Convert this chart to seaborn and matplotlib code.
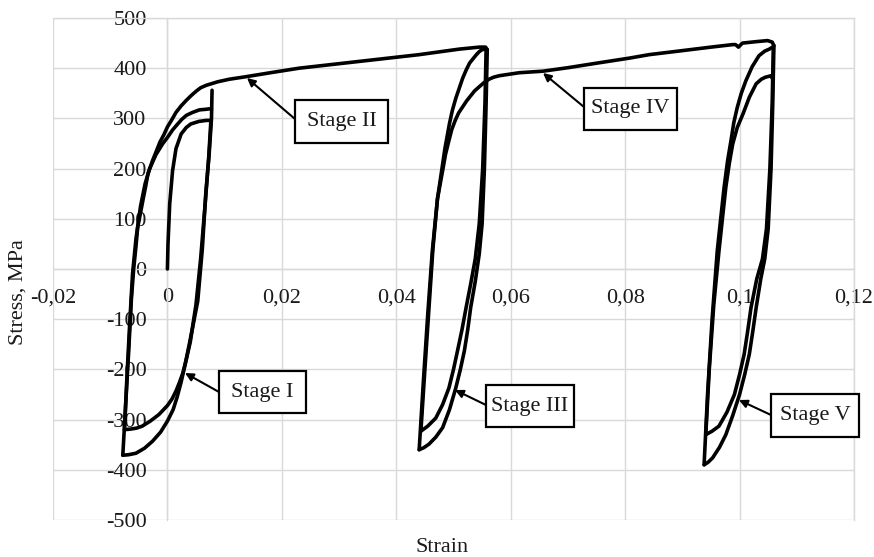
import matplotlib
matplotlib.use("Agg")
import matplotlib.pyplot as plt
import seaborn as sns
import pandas as pd
from matplotlib.patches import Rectangle

# ---------------- data ----------------
# Stage I: initial loading and first cycles
strain_init = [0.0, 0.0001, 0.0004, 0.0009, 0.0015, 0.0024, 0.0033, 0.0041, 0.0055, 0.0068, 0.0076]
stress_init = [0, 50, 130, 196, 240, 269, 282, 289, 294, 296, 296]

strain_unl1 = [0.0076, 0.0072, 0.0066, 0.0058, 0.0050, 0.0040, 0.0033, 0.0027, 0.0021, 0.0015, 0.0008,
               0.0, -0.0015, -0.0030, -0.0044, -0.0054, -0.0065, -0.0075]
stress_unl1 = [296, 220, 130, 20, -70, -145, -180, -207, -226, -243, -259,
               -272, -290, -303, -313, -317, -319, -320]

strain_rel1 = [-0.0075, -0.0071, -0.0066, -0.0061, -0.0055, -0.0047, -0.0039, -0.0031, -0.0020, -0.0008,
               0.0, 0.0009, 0.0018, 0.0025, 0.0033, 0.0044, 0.0056, 0.0066, 0.0073, 0.0077]
stress_rel1 = [-320, -220, -110, -10, 60, 125, 170, 200, 228, 250,
               262, 277, 289, 298, 306, 312, 317, 318, 319, 319]

strain_unl2 = [0.0078, 0.0077, 0.0073, 0.0067, 0.0061, 0.0053, 0.0046, 0.0038, 0.0031, 0.0024, 0.0017,
               0.0010, 0.0, -0.0012, -0.0026, -0.0040, -0.0055, -0.0068, -0.0078]
stress_unl2 = [356, 300, 230, 150, 40, -64, -105, -151, -190, -225, -255,
               -280, -303, -325, -343, -357, -367, -370, -371]

# Stage II: reloading and monotonic tension
strain_rel2 = [-0.0078, -0.0073, -0.0068, -0.0063, -0.0059, -0.0055, -0.0052, -0.0047, -0.0043, -0.0038,
               -0.0034, -0.0026, -0.0020, -0.0013, -0.0006, 0.0, 0.0008, 0.0015, 0.0024, 0.0033,
               0.0042, 0.0050, 0.0058, 0.0068, 0.0088, 0.0108, 0.0137, 0.018, 0.023, 0.030, 0.037,
               0.044, 0.051, 0.0545, 0.0556, 0.0559]
stress_rel2 = [-371, -270, -170, -60, 0, 45, 83, 112, 136, 165,
               190, 216, 233, 253, 268, 283, 298, 312, 325, 336,
               346, 354, 361, 366, 373, 378, 383, 391, 400, 409, 418,
               427, 438, 442, 442, 437]

# Stage III: cycles around 0.05
strain_unl3 = [0.0559, 0.0557, 0.0554, 0.0550, 0.0545, 0.0538, 0.0530, 0.0525, 0.0519, 0.0512, 0.0504,
               0.0493, 0.0481, 0.0469, 0.0457, 0.0448, 0.0440]
stress_unl3 = [437, 330, 200, 90, 30, -25, -77, -120, -163, -200, -237,
               -280, -316, -335, -349, -356, -360]

strain_rel3 = [0.0440, 0.0447, 0.0455, 0.0463, 0.0472, 0.0481, 0.0485, 0.0489, 0.0493, 0.0498, 0.0504,
               0.0510, 0.0516, 0.0522, 0.0528, 0.0535, 0.0540, 0.0545, 0.0550, 0.0557]
stress_rel3 = [-360, -230, -90, 36, 140, 209, 240, 265, 290, 316, 340,
               360, 380, 396, 410, 420, 427, 433, 437, 438]

strain_unl4 = [0.0557, 0.0555, 0.0551, 0.0545, 0.0538, 0.0530, 0.0522, 0.0515, 0.0507, 0.0500, 0.0492,
               0.0481, 0.0469, 0.0455, 0.0443]
stress_unl4 = [438, 330, 200, 90, 20, -30, -77, -120, -163, -200, -237,
               -270, -297, -313, -323]

# Stage IV: reloading and tension to ~0.106
strain_rel4 = [0.0443, 0.0450, 0.0457, 0.0464, 0.0472, 0.0481, 0.0486, 0.0492, 0.0497, 0.0503, 0.0509,
               0.0516, 0.0523, 0.0530, 0.0537, 0.0545, 0.0553, 0.0562, 0.0570, 0.0580, 0.0615,
               0.0656, 0.070, 0.075, 0.0807, 0.0842, 0.090, 0.0950, 0.0988, 0.0993, 0.0998, 0.1005,
               0.1030, 0.1049, 0.1057, 0.1060]
stress_rel4 = [-323, -200, -80, 40, 140, 196, 228, 256, 278, 296, 311,
               323, 335, 345, 355, 363, 371, 378, 382, 385, 391,
               394, 401, 410, 420, 427, 435, 442, 447, 447, 442, 450,
               453, 455, 452, 445]

# Stage V: cycles around 0.1
strain_unl5 = [0.1060, 0.1058, 0.1055, 0.1050, 0.1044, 0.1037, 0.1029, 0.1023, 0.1017, 0.1009, 0.1000,
               0.0988, 0.0976, 0.0965, 0.0953, 0.0945, 0.0938]
stress_unl5 = [445, 330, 200, 80, 20, -20, -77, -125, -170, -210, -250,
               -292, -330, -355, -376, -385, -390]

strain_rel5 = [0.0938, 0.0944, 0.0952, 0.0961, 0.0967, 0.0973, 0.0979, 0.0985, 0.0990, 0.0996, 0.1003,
               0.1011, 0.1022, 0.1034, 0.1044, 0.1052, 0.1059]
stress_rel5 = [-390, -250, -100, 36, 100, 163, 215, 256, 292, 322, 350,
               375, 403, 425, 434, 438, 443]

strain_unl6 = [0.1059, 0.1057, 0.1053, 0.1047, 0.1040, 0.1030, 0.1020, 0.1014, 0.1008, 0.1000, 0.0991,
               0.0978, 0.0964, 0.0952, 0.0941]
stress_unl6 = [443, 330, 200, 80, 20, -20, -77, -125, -170, -210, -250,
               -285, -313, -323, -330]

strain_rel6 = [0.0941, 0.0947, 0.0955, 0.0964, 0.0970, 0.0976, 0.0982, 0.0988, 0.0996, 0.1006, 0.1017,
               0.1029, 0.1038, 0.1045, 0.1055, 0.1057]
stress_rel6 = [-330, -200, -70, 36, 100, 163, 210, 249, 282, 309, 342,
               369, 378, 382, 385, 380]

x_ticks = [-0.02, 0.0, 0.02, 0.04, 0.06, 0.08, 0.10, 0.12]
x_tick_labels = ["-0,02", "0", "0,02", "0,04", "0,06", "0,08", "0,1", "0,12"]
y_ticks = [-500, -400, -300, -200, -100, 0, 100, 200, 300, 400, 500]
y_tick_labels = ["-500", "-400", "-300", "-200", "-100", "0", "100", "200", "300", "400", "500"]

stage_labels = ["Stage I", "Stage II", "Stage III", "Stage IV", "Stage V"]

# ---------------- build table ----------------
segments = [
    (strain_init, stress_init), (strain_unl1, stress_unl1), (strain_rel1, stress_rel1),
    (strain_unl2, stress_unl2), (strain_rel2, stress_rel2), (strain_unl3, stress_unl3),
    (strain_rel3, stress_rel3), (strain_unl4, stress_unl4), (strain_rel4, stress_rel4),
    (strain_unl5, stress_unl5), (strain_rel5, stress_rel5), (strain_unl6, stress_unl6),
    (strain_rel6, stress_rel6),
]
rows = []
for k, (xs, ys) in enumerate(segments):
    for i, (xv, yv) in enumerate(zip(xs, ys)):
        rows.append({"seg": k, "order": i, "strain": xv, "stress": yv})
df = pd.DataFrame(rows)

# ---------------- plotting ----------------
sns.set_style("white")
plt.rcParams["font.family"] = ["Liberation Serif", "DejaVu Serif"]

W, H = 874, 557
fig = plt.figure(figsize=(W / 100, H / 100), dpi=100)
ax = fig.add_axes([53 / W, 37 / H, 801 / W, 502 / H])

sns.lineplot(data=df, x="strain", y="stress", units="seg", estimator=None, sort=False,
             color="black", linewidth=2.6, legend=False, ax=ax, zorder=3,
             solid_joinstyle="round", solid_capstyle="round")

ax.set_xlim(-0.02, 0.12)
ax.set_ylim(-500, 500)
ax.set_xticks(x_ticks)
ax.set_xticklabels(x_tick_labels)
ax.set_yticks(y_ticks)
ax.set_yticklabels(y_tick_labels)
ax.set_xlabel("")
ax.set_ylabel("")

grid_col = "#d9d9d9"
ax.grid(True, color=grid_col, linewidth=1.0)
ax.set_axisbelow(True)
for gl in ax.get_xgridlines() + ax.get_ygridlines():
    gl.set_clip_on(False)

ax.spines["left"].set_position(("data", 0))
ax.spines["bottom"].set_position(("data", 0))
for s in ["left", "bottom", "top", "right"]:
    ax.spines[s].set_color(grid_col)
    ax.spines[s].set_linewidth(1.0)
ax.tick_params(axis="both", length=0, labelsize=16, colors="#1a1a1a")
ax.tick_params(axis="x", pad=14)
ax.tick_params(axis="y", pad=15)

fig.text(442 / W, 1 - 548 / H, "Strain", ha="center", va="center", fontsize=16, color="#1a1a1a")
fig.text(18 / W, 1 - 292 / H, "Stress, MPa", ha="center", va="center", rotation=90, fontsize=16,
         color="#1a1a1a")

# ---------------- annotations (pixel layout -> data) ----------------
fig.canvas.draw()
inv = ax.transData.inverted()


def p2d(px, py):
    return inv.transform((px, H - py))


# (box x0, box x1, box y_top, box y_bottom, arrow start px, arrow tip px)
boxes = [
    (219, 306, 371, 413, (219, 392), (185, 373)),
    (295, 388, 100, 143, (295, 119), (247, 78)),
    (486, 574, 385, 427, (486, 405), (455, 390)),
    (584, 677, 88, 130, (584, 107), (543, 73)),
    (771, 859, 394, 437, (771, 415), (739, 400)),
]
for label, (x0, x1, yt, yb, start, tip) in zip(stage_labels, boxes):
    a = p2d(x0, yb)
    b = p2d(x1, yt)
    rect = Rectangle((a[0], a[1]), b[0] - a[0], b[1] - a[1], facecolor="white",
                     edgecolor="black", linewidth=1.6, zorder=5, clip_on=False)
    ax.add_patch(rect)
    c = p2d((x0 + x1) / 2, (yt + yb) / 2)
    ax.text(c[0], c[1], label, ha="center", va="center", fontsize=16, zorder=6, clip_on=False,
            color="#1a1a1a")
    s = p2d(*start)
    t = p2d(*tip)
    ax.annotate("", xy=t, xytext=s,
                arrowprops=dict(arrowstyle="-|>", color="black", lw=1.5, mutation_scale=12,
                                shrinkA=0, shrinkB=0), zorder=6, annotation_clip=False)

fig.savefig("out.png", dpi=100)
